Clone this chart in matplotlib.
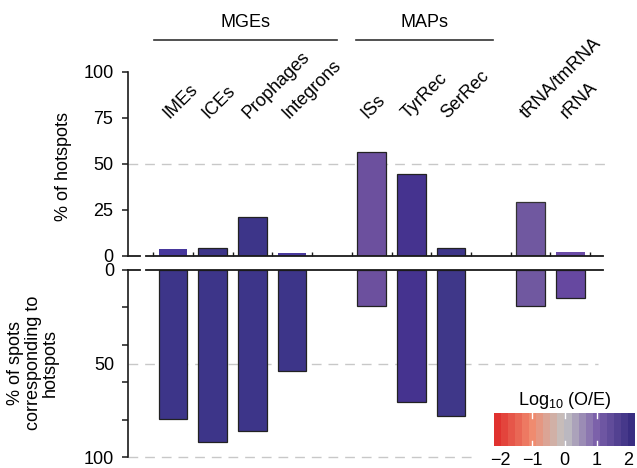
import numpy as np
import matplotlib
matplotlib.use("Agg")
import matplotlib.pyplot as plt
from matplotlib.colors import LinearSegmentedColormap, Normalize

plt.rcParams['font.family'] = ['Liberation Sans', 'DejaVu Sans']
plt.rcParams['mathtext.fontset'] = 'custom'
plt.rcParams['mathtext.rm'] = 'Liberation Sans'
plt.rcParams['mathtext.default'] = 'regular'

# data
categories = ["IMEs", "ICEs", "Prophages", "Integrons", "ISs", "TyrRec", "SerRec",
              "tRNA/tmRNA", "rRNA"]
slots = [0, 1, 2, 3, 5, 6, 7, 9, 10]
hotspot_pct = [4.0, 4.2, 21.2, 1.4, 56.3, 44.2, 4.1, 29.2, 2.4]
spot_pct = [79.7, 92.0, 86.0, 54.0, 19.0, 70.6, 78.0, 19.0, 15.0]
groups = ["MGEs", "MAPs"]
group_from = [-0.48, 4.61]
group_to = [4.13, 8.06]
cbar_ticks = [-2, -1, 0, 1, 2]

# bar fills (log10 O/E shade as seen in the picture)
top_colors = ["#47389c", "#3d3589", "#3d3589", "#4a3a9e", "#6c509e", "#45338f",
              "#3d3589", "#7058a0", "#6a4aa6"]
top_edges = ["none", "#222222", "#222222", "none", "#222222", "#222222",
             "#222222", "#333333", "none"]
bot_colors = ["#3d3589", "#3d3589", "#3d3589", "#3d3589", "#6c509e", "#45338f",
              "#3f3789", "#7058a0", "#6648a0"]

# diverging red-grey-purple palette, cut in 20 steps
vmin, vmax = -2.2, 2.2
base = LinearSegmentedColormap.from_list("oe", [
    (0.0, "#df2a2a"), (0.27, "#f08a6e"), (0.5, "#c3c3c3"),
    (0.73, "#7b60aa"), (1.0, "#33297e")])
n_steps = 20
norm = Normalize(vmin, vmax)

fig = plt.figure(figsize=(6.37, 4.68), dpi=100)
W, H = 637.0, 468.0
x_lo, x_hi = -1.133, 11.0
ax_l, ax_w = 128 / W, (610 - 128) / W

ax_top = fig.add_axes([ax_l, 1 - 256 / H, ax_w, (256 - 71.5) / H])
ax_bot = fig.add_axes([ax_l, 1 - 457 / H, ax_w, (457 - 270) / H])

line_col = "#1a1a1a"
dash_col = "#c8c8c8"

# ---- top panel: % of hotspots
ax_top.bar(slots, hotspot_pct, width=0.72, color=top_colors,
           edgecolor=top_edges, linewidth=0.9, zorder=3)
ax_top.set_xlim(x_lo, x_hi)
ax_top.set_ylim(0, 100)
for s in ["top", "right", "bottom"]:
    ax_top.spines[s].set_visible(False)
ax_top.spines["left"].set_linewidth(1.2)
ax_top.spines["left"].set_color(line_col)
ax_top.set_yticks([0, 25, 50, 75, 100])
ax_top.tick_params(axis="y", length=4, width=1.1, pad=6.5, labelsize=13,
                   color=line_col)
ax_top.set_xticks(np.arange(-0.5, 11, 1))
ax_top.tick_params(axis="x", direction="in", length=3, width=1.0,
                   labelbottom=False, color=line_col)
ax_top.plot([-0.68, 10.83], [0, 0], color=line_col, lw=1.3, clip_on=False, zorder=4)
ax_top.plot([x_lo, -0.83], [0, 0], color=line_col, lw=1.3, clip_on=False, zorder=4)
ax_top.plot([x_lo, 10.9], [50, 50], color=dash_col, lw=1.0, dashes=(7, 5), zorder=1)

for name, x in zip(categories, slots):
    ax_top.text(x - 0.1, 74, name, rotation=45, rotation_mode="anchor",
                ha="left", va="baseline", fontsize=13)

for name, a, b in zip(groups, group_from, group_to):
    ax_top.plot([a, b], [117.1, 117.1], color="#333333", lw=1.2, clip_on=False)
    ax_top.text((a + b) / 2, 126.8, name, ha="center", va="center", fontsize=13)

# ---- bottom panel: % of spots corresponding to hotspots
ax_bot.bar(slots, spot_pct, width=0.72, color=bot_colors,
           edgecolor="#222222", linewidth=0.9, zorder=3)
ax_bot.set_xlim(x_lo, x_hi)
ax_bot.set_ylim(100, 0)
for s in ["top", "right", "bottom"]:
    ax_bot.spines[s].set_visible(False)
ax_bot.spines["left"].set_linewidth(1.2)
ax_bot.spines["left"].set_color(line_col)
ax_bot.set_xticks([])
ax_bot.yaxis.remove_overlapping_locs = False
ax_bot.set_yticks([0, 50, 100])
ax_bot.set_yticks(np.arange(0, 101, 20), minor=True)
ax_bot.tick_params(axis="y", which="major", length=0, pad=10, labelsize=13)
ax_bot.tick_params(axis="y", which="minor", length=4, width=1.1, color=line_col)
ax_bot.plot([-0.68, 10.83], [0, 0], color=line_col, lw=1.3, clip_on=False, zorder=4)
ax_bot.plot([x_lo, -0.83], [0, 0], color=line_col, lw=1.3, clip_on=False, zorder=4)
ax_bot.plot([x_lo, 10.7], [50, 50], color=dash_col, lw=1.0, dashes=(7, 5), zorder=1)
ax_bot.plot([x_lo, 7.6], [100, 100], color=dash_col, lw=1.0, dashes=(7, 5),
            zorder=1, clip_on=False)

fig.text(63 / W, 1 - 166 / H, "% of hotspots", rotation=90, ha="center",
         va="center", fontsize=13)
fig.text(33 / W, 1 - 363 / H, "% of spots\ncorresponding to\nhotspots", rotation=90,
         ha="center", va="center", multialignment="center", fontsize=13,
         linespacing=1.05)

# ---- colour key
cax = fig.add_axes([494 / W, 1 - 446 / H, 141 / W, 33 / H])
edges = np.linspace(vmin, vmax, n_steps + 1)
centers = (edges[:-1] + edges[1:]) / 2
cax.imshow(base(norm(centers))[None, :, :], aspect="auto",
           extent=(vmin, vmax, 0, 1), interpolation="nearest")
for v in [-1, 0, 1]:
    cax.plot([v, v], [0, 0.14], color="white", lw=1.0)
    cax.plot([v, v], [0.86, 1], color="white", lw=1.0)
cax.set_xlim(vmin, vmax)
cax.set_ylim(0, 1)
cax.set_yticks([])
cax.set_xticks(cbar_ticks)
cax.set_xticklabels([str(t).replace("-", "\u2212") for t in cbar_ticks])
cax.tick_params(axis="x", length=0, pad=4, labelsize=13)
for s in cax.spines.values():
    s.set_visible(False)
cax.set_title("Log$_{10}$ (O/E)", fontsize=13, pad=6)

fig.savefig("out.png", dpi=100)
